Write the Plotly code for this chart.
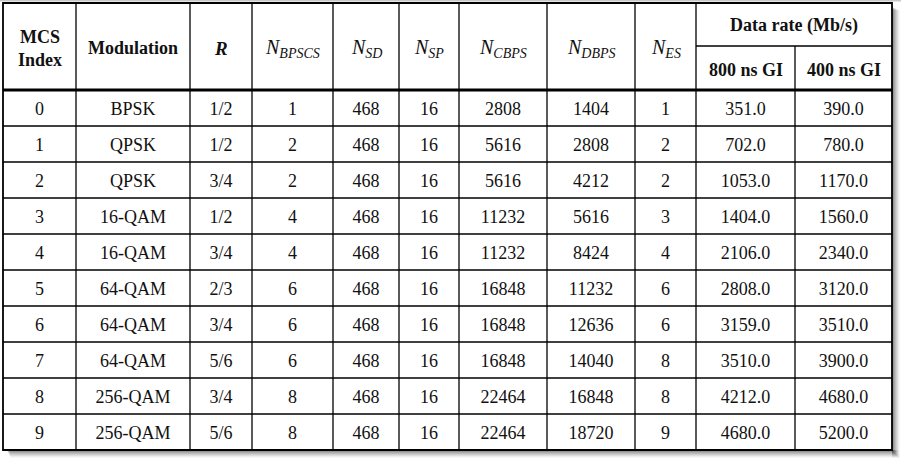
import plotly.graph_objects as go

# ---- data ----
mcs_index = [0, 1, 2, 3, 4, 5, 6, 7, 8, 9]
modulation = ["BPSK", "QPSK", "QPSK", "16-QAM", "16-QAM", "64-QAM", "64-QAM", "64-QAM", "256-QAM", "256-QAM"]
coding_rate = ["1/2", "1/2", "3/4", "1/2", "3/4", "2/3", "3/4", "5/6", "3/4", "5/6"]
n_bpscs = [1, 2, 2, 4, 4, 6, 6, 6, 8, 8]
n_sd = [468, 468, 468, 468, 468, 468, 468, 468, 468, 468]
n_sp = [16, 16, 16, 16, 16, 16, 16, 16, 16, 16]
n_cbps = [2808, 5616, 5616, 11232, 11232, 16848, 16848, 16848, 22464, 22464]
n_dbps = [1404, 2808, 4212, 5616, 8424, 11232, 12636, 14040, 16848, 18720]
n_es = [1, 2, 2, 3, 4, 6, 6, 8, 8, 9]
rate_800 = [351.0, 702.0, 1053.0, 1404.0, 2106.0, 2808.0, 3159.0, 3510.0, 4212.0, 4680.0]
rate_400 = [390.0, 780.0, 1170.0, 1560.0, 2340.0, 3120.0, 3510.0, 3900.0, 4680.0, 5200.0]

# header: (text, weight, style, size)
header_labels = [
    ("MCS<br>Index", "bold", "normal", 18),
    ("Modulation", "bold", "normal", 18),
    ("R", "bold", "italic", 19),
    ("N<sub>BPSCS</sub>", "normal", "italic", 20),
    ("N<sub>SD</sub>", "normal", "italic", 20),
    ("N<sub>SP</sub>", "normal", "italic", 20),
    ("N<sub>CBPS</sub>", "normal", "italic", 20),
    ("N<sub>DBPS</sub>", "normal", "italic", 20),
    ("N<sub>ES</sub>", "normal", "italic", 20),
]
group_label = ("Data rate (Mb/s)", "bold", "normal", 18)
sub_labels = [("800 ns GI", "bold", "normal", 18), ("400 ns GI", "bold", "normal", 18)]

# ---- layout (pixel-like units) ----
W, H = 901, 460
col_edges = [3, 76, 190, 252, 333, 399, 459, 547, 635, 696, 795, 892]
top, head_mid, head_bot = 3, 46, 90
row_h = 36
n_rows = len(mcs_index)
bottom = head_bot + row_h * n_rows

FONT = "Liberation Serif, Times New Roman, serif"
FS = 18
TXT = "#111111"

columns = [
    [str(v) for v in mcs_index],
    modulation,
    coding_rate,
    [str(v) for v in n_bpscs],
    [str(v) for v in n_sd],
    [str(v) for v in n_sp],
    [str(v) for v in n_cbps],
    [str(v) for v in n_dbps],
    [str(v) for v in n_es],
    [f"{v:.1f}" for v in rate_800],
    [f"{v:.1f}" for v in rate_400],
]

centers = [(col_edges[i] + col_edges[i + 1]) / 2 for i in range(len(col_edges) - 1)]
row_centers = [head_bot + row_h * (r + 0.5) + 2 for r in range(n_rows)]

fig = go.Figure()

# body text
xs, ys, ts = [], [], []
for c, vals in enumerate(columns):
    for r, v in enumerate(vals):
        xs.append(centers[c])
        ys.append(row_centers[r])
        ts.append(v)
fig.add_trace(go.Scatter(x=xs, y=ys, text=ts, mode="text",
                         textfont=dict(family=FONT, size=FS, color=TXT),
                         textposition="middle center", hoverinfo="skip", showlegend=False))

# header text (annotations)
hx = centers[:9] + [(col_edges[9] + col_edges[11]) / 2] + centers[9:]
hy = [(top + head_bot) / 2 + 1.5] * 9 + [(top + head_mid) / 2 + 1] + [(head_mid + head_bot) / 2 + 1.5] * 2
hl = header_labels + [group_label] + sub_labels
annotations = []
for x, y, (t, wgt, sty, sz) in zip(hx, hy, hl):
    annotations.append(dict(x=x, y=y, text=t, showarrow=False, xanchor="center", yanchor="middle",
                            font=dict(family=FONT, size=sz, color=TXT, weight=wgt, style=sty)))

shapes = []
# shadow
for k in range(8):
    op = 0.10 * (1 - k / 8) + 0.02
    shapes.append(dict(type="rect", x0=col_edges[-1], x1=col_edges[-1] + 1 + k, y0=top + 4 + k * 0.5,
                       y1=bottom + 1 + k, line=dict(width=0), fillcolor=f"rgba(0,0,0,{op:.3f})", layer="below"))
    shapes.append(dict(type="rect", x0=top + 4 + k * 0.5, x1=col_edges[-1] + k, y0=bottom,
                       y1=bottom + 1 + k, line=dict(width=0), fillcolor=f"rgba(0,0,0,{op:.3f})", layer="below"))
# top faint line
shapes.append(dict(type="line", x0=0, x1=W, y0=0.8, y1=0.8, line=dict(color="#c8c8c8", width=1.5)))
# table background
shapes.append(dict(type="rect", x0=col_edges[0], x1=col_edges[-1], y0=top, y1=bottom,
                   fillcolor="white", line=dict(width=0), layer="below"))

LC = "#000000"
# vertical inner lines
for i, x in enumerate(col_edges[1:-1], start=1):
    y0 = head_mid if i == 10 else top
    shapes.append(dict(type="line", x0=x, x1=x, y0=y0, y1=bottom, line=dict(color=LC, width=1.3)))
# header sub-line
shapes.append(dict(type="line", x0=col_edges[9], x1=col_edges[11], y0=head_mid, y1=head_mid,
                   line=dict(color=LC, width=1.3)))
# body row lines
for r in range(1, n_rows):
    y = head_bot + row_h * r
    shapes.append(dict(type="line", x0=col_edges[0], x1=col_edges[-1], y0=y, y1=y,
                       line=dict(color=LC, width=1.3)))
# thick header line
shapes.append(dict(type="line", x0=col_edges[0], x1=col_edges[-1], y0=head_bot, y1=head_bot,
                   line=dict(color=LC, width=3)))
# outer border
shapes.append(dict(type="rect", x0=col_edges[0], x1=col_edges[-1], y0=top, y1=bottom,
                   line=dict(color=LC, width=1.8)))

fig.update_layout(
    width=W, height=H, margin=dict(l=0, r=0, t=0, b=0),
    paper_bgcolor="white", plot_bgcolor="white",
    xaxis=dict(range=[0, W], visible=False, fixedrange=True),
    yaxis=dict(range=[H, 0], visible=False, fixedrange=True),
    shapes=shapes, annotations=annotations, showlegend=False,
)
fig.write_html("out.html", config={"displayModeBar": False},
               post_script="document.body.style.margin='0px';document.body.style.overflow='hidden';")
